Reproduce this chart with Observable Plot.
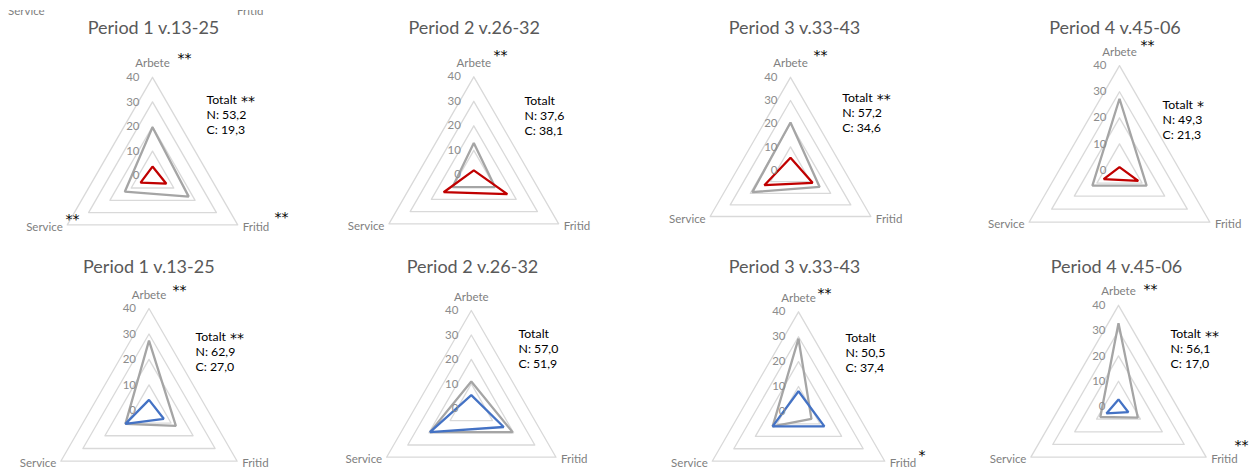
<!DOCTYPE html>
<html><head><meta charset="utf-8">
<script src="https://cdn.jsdelivr.net/npm/d3@7"></script>
<script src="https://cdn.jsdelivr.net/npm/@observablehq/plot@0.6"></script>
<style>
html,body{margin:0;padding:0;background:#fff;}
#root{position:relative;width:1250px;height:468px;overflow:hidden;font-family:Lato,"Open Sans",sans-serif;background:#fff;}
.panel{position:absolute;}
.remnant{position:absolute;left:0;top:10px;width:320px;height:6px;overflow:hidden;}
.remnant span{position:absolute;top:-5px;font:11.5px/12px Lato,sans-serif;color:#808080;white-space:nowrap;}
</style></head><body><div id="root">
<div class="remnant"><span style="left:8px">Service</span><span style="left:237px">Fritid</span></div>
</div>
<script>
// ---- data ----
const categories = ["Arbete", "Fritid", "Service"];
const periods = ["Period 1 v.13-25", "Period 2 v.26-32", "Period 3 v.33-43", "Period 4 v.45-06"];
const gridLevels = [10, 20, 30, 40];
const tickValues = [0, 10, 20, 30, 40];

// values in order Arbete, Fritid, Service
const greyTop    = [[19.7, 17, 13], [13, 10, 10], [20.5, 14.5, 19], [27.3, 12, 12]];
const redTop     = [[3.7, 6.5, 5.6], [1.8, 15.8, 14.2], [5.3, 11, 13], [1.1, 8.3, 7]];
const greyBottom = [[27.4, 12.2, 10.7], [11, 19.5, 19.5], [29.2, 6, 12], [32.9, 8.8, 8.3]];
const blueBottom = [[4.1, 6.7, 10.7], [5.4, 15.3, 19.5], [8.1, 12, 12], [2.8, 4.5, 5.5]];

const notesTop = [["Totalt **", "N: 53,2", "C: 19,3"], ["Totalt", "N: 37,6", "C: 38,1"], ["Totalt **", "N: 57,2", "C: 34,6"], ["Totalt *", "N: 49,3", "C: 21,3"]];
const notesBottom = [["Totalt **", "N: 62,9", "C: 27,0"], ["Totalt", "N: 57,0", "C: 51,9"], ["Totalt", "N: 50,5", "C: 37,4"], ["Totalt **", "N: 56,1", "C: 17,0"]];
const starsTop = [["**", "**", "**"], ["**", "", ""], ["**", "", ""], ["**", "", ""]];
const starsBottom = [["**", "", ""], ["", "", ""], ["**", "*", ""], ["**", "**", ""]];

// ---- layout (page pixels) ----
const layout = [
  {cx:152,   cy:175.2, u:2.46,  title:[153,33],    note:[206,103],   stars:[[177,62.6],[274,221.6],[65,223.6]]},
  {cx:473.3, cy:174.3, u:2.45,  title:[473.7,33],  note:[524,104],   stars:[[493,59.6],null,null]},
  {cx:790,   cy:169.6, u:2.32,  title:[794,33],    note:[841.7,101], stars:[[813,59.6],null,null]},
  {cx:1119,  cy:169.5, u:2.61,  title:[1114.5,33], note:[1162,108],  stars:[[1140,49.6],null,null]},
  {cx:148.5, cy:409.8, u:2.545, title:[148.3,272], note:[195,340],   stars:[[172,294.6],null,null]},
  {cx:470.8, cy:407.8, u:2.445, title:[472,272],   note:[518,337.7], stars:[null,null,null]},
  {cx:798,   cy:410.9, u:2.49,  title:[794,272],   note:[845,341],   stars:[[817,297.6],[918,459.6],null]},
  {cx:1118,  cy:406,   u:2.53,  title:[1116,272],  note:[1170,337.7],stars:[[1143,293.6],[1234,449.6],null]}
];
const cellLefts = [0, 312, 625, 937];
const cellWidths = [312, 313, 312, 313];
const cellH = 234;

const angle = {Arbete: 90, Fritid: -30, Service: 210};
const toXY = (cat, v) => ({cat, v, x: v * Math.cos(angle[cat] * Math.PI / 180), y: v * Math.sin(angle[cat] * Math.PI / 180)});

const FONT = "Lato, 'Open Sans', sans-serif";
const STARFONT = "'DejaVu Sans', sans-serif";
const root = document.getElementById("root");

for (let i = 0; i < 8; i++) {
  const row = Math.floor(i / 4), col = i % 4;
  const L = layout[i];
  const left = cellLefts[col], top = row * cellH, W = cellWidths[col], H = cellH;
  const cxl = L.cx - left, cyl = L.cy - top, u = L.u;
  const grey = row === 0 ? greyTop[col] : greyBottom[col];
  const coloured = row === 0 ? redTop[col] : blueBottom[col];
  const colour = row === 0 ? "#c00000" : "#4472c4";
  const notes = row === 0 ? notesTop[col] : notesBottom[col];
  const stars = row === 0 ? starsTop[col] : starsBottom[col];

  const grid = gridLevels.flatMap(level => categories.map(c => ({...toXY(c, level), level})));
  const greyPts = categories.map((c, k) => toXY(c, grey[k]));
  const colPts = categories.map((c, k) => toXY(c, coloured[k]));
  const outer = categories.map(c => toXY(c, 40));

  const noteMarks = notes.flatMap((line, k) => {
    const m = line.match(/^(.*?)\s*(\*+)$/);
    const word = m ? m[1] : line;
    const out = [Plot.text([word], {frameAnchor: "top-left", dx: L.note[0] - left, dy: L.note[1] - top + 15 * k, text: d => d, textAnchor: "start", lineAnchor: "bottom", fill: "#000", fontSize: 12.3})];
    if (m) out.push(Plot.text([m[2]], {frameAnchor: "top-left", dx: L.note[0] - left + 34.5, dy: L.note[1] - top + 15 * k + 2.6, text: d => d, textAnchor: "start", lineAnchor: "bottom", fill: "#000", fontSize: 14, fontFamily: STARFONT}));
    return out;
  });

  const marks = [
    Plot.line(grid, {x: "x", y: "y", z: "level", curve: "linear-closed", stroke: "#d9d9d9", strokeWidth: 1.3}),
    Plot.line(greyPts, {x: "x", y: "y", curve: "linear-closed", stroke: "#a5a5a5", strokeWidth: 2.3, strokeLinejoin: "miter"}),
    Plot.line(colPts, {x: "x", y: "y", curve: "linear-closed", stroke: colour, strokeWidth: 2.3, strokeLinejoin: "miter"}),
    Plot.text(tickValues, {x: () => 0, y: d => d, text: d => String(d), textAnchor: "end", dx: -13, fill: "#8c8c8c", fontSize: 11.5}),
    Plot.text(outer.filter(d => d.cat === "Arbete"), {x: "x", y: "y", text: "cat", textAnchor: "middle", lineAnchor: "bottom", dy: -10, fill: "#808080", fontSize: 11.5}),
    Plot.text(outer.filter(d => d.cat === "Fritid"), {x: "x", y: "y", text: "cat", textAnchor: "start", lineAnchor: "bottom", dx: 5, dy: 6, fill: "#808080", fontSize: 11.5}),
    Plot.text(outer.filter(d => d.cat === "Service"), {x: "x", y: "y", text: "cat", textAnchor: "end", lineAnchor: "bottom", dx: -4.5, dy: 6, fill: "#808080", fontSize: 11.5}),
    Plot.text([periods[col]], {frameAnchor: "top-left", dx: L.title[0] - left, dy: L.title[1] - top, text: d => d, textAnchor: "middle", lineAnchor: "bottom", fill: "#595959", fontSize: 18}),
    ...noteMarks,
    ...stars.map((s, k) => (s && L.stars[k]) ? Plot.text([s], {frameAnchor: "top-left", dx: L.stars[k][0] - left, dy: L.stars[k][1] - top, text: d => d, textAnchor: "start", lineAnchor: "bottom", fill: "#000", fontSize: 14, fontFamily: STARFONT}) : null).filter(Boolean)
  ];

  const svg = Plot.plot({
    width: W, height: H, margin: 0,
    x: {domain: [-cxl / u, (W - cxl) / u], range: [0, W], axis: null},
    y: {domain: [-(H - cyl) / u, cyl / u], range: [H, 0], axis: null},
    style: {background: "transparent", fontFamily: FONT, overflow: "visible"},
    marks
  });
  const div = document.createElement("div");
  div.className = "panel";
  div.style.left = left + "px";
  div.style.top = top + "px";
  div.appendChild(svg);
  root.appendChild(div);
}
</script>
</body></html>
